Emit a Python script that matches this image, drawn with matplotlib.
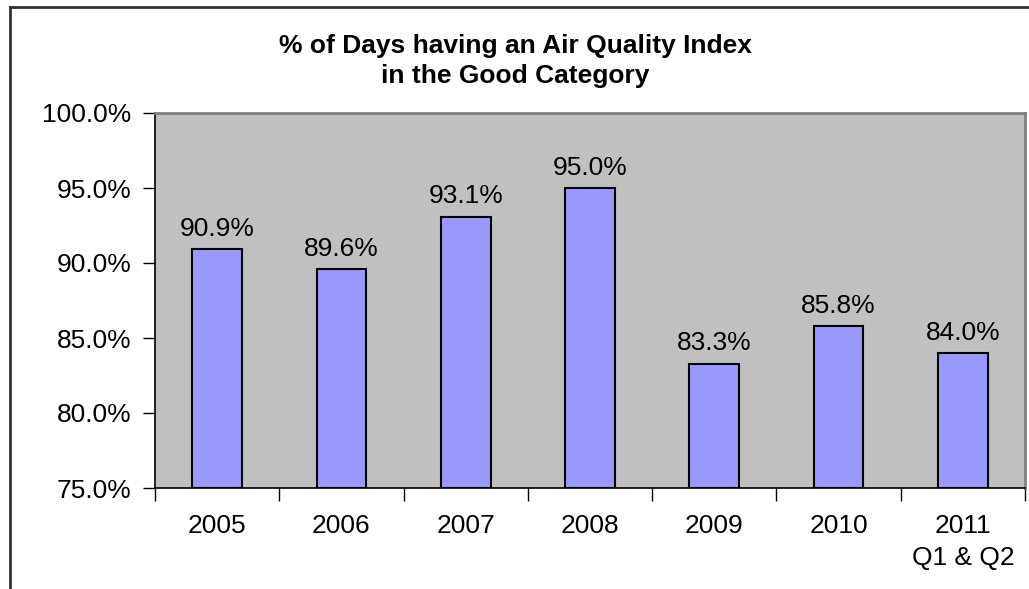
import matplotlib
matplotlib.use("Agg")
import matplotlib.pyplot as plt
from matplotlib.lines import Line2D

categories = ["2005", "2006", "2007", "2008", "2009", "2010", "2011\nQ1 & Q2"]
values = [90.9, 89.6, 93.1, 95.0, 83.3, 85.8, 84.0]
yticks = [75, 80, 85, 90, 95, 100]
title = "% of Days having an Air Quality Index\nin the Good Category"

plt.rcParams['font.family'] = ['Liberation Sans', 'DejaVu Sans']

W, H = 1029, 589
fig = plt.figure(figsize=(W / 100, H / 100), dpi=100)
ax = fig.add_axes([155 / W, 1 - 488 / H, (1025 - 155) / W, (488 - 113) / H])
ax.set_facecolor('#C0C0C0')

x = list(range(len(categories)))
ax.bar(x, [v - 75 for v in values], bottom=75, width=0.4, color='#9999FF',
       edgecolor='black', linewidth=1.5, zorder=3)
for xi, v in zip(x, values):
    ax.annotate(f"{v:.1f}%", (xi, v), xytext=(0, 6), textcoords='offset points',
                ha='center', va='bottom', fontsize=19)

ax.set_xlim(-0.5, len(categories) - 0.5)
ax.set_ylim(75, 100)
ax.set_yticks(yticks)
ax.set_yticklabels([f"{t:.1f}%" for t in yticks], fontsize=19)
ax.tick_params(axis='y', direction='out', length=9, width=1, pad=8)

ax.set_xticks(x)
ax.set_xticklabels(categories, fontsize=19, va='top', linespacing=1.38)
ax.tick_params(axis='x', which='major', length=0, pad=19)
ax.set_xticks([i + 0.5 for i in range(-1, len(categories))], minor=True)
ax.tick_params(axis='x', which='minor', direction='out', length=9, width=1)

ax.spines['left'].set_color('black')
ax.spines['bottom'].set_color('black')
ax.spines['top'].set_color('#808080')
ax.spines['right'].set_color('#808080')
for s in ax.spines.values():
    s.set_linewidth(1.2)
ax.spines['top'].set_linewidth(2)
ax.spines['right'].set_linewidth(2)

fig.text(515 / W, 1 - 61 / H, title, ha='center', va='center', fontsize=19,
         fontweight='bold', linespacing=1.36)

# outer chart frame (left and top edges visible)
fig.add_artist(Line2D([10 / W, 10 / W], [0, 1 - 7 / H], transform=fig.transFigure,
                      color='#333333', linewidth=2))
fig.add_artist(Line2D([10 / W, 1], [1 - 7 / H, 1 - 7 / H], transform=fig.transFigure,
                      color='#333333', linewidth=2))

fig.savefig("out.png", dpi=100)
